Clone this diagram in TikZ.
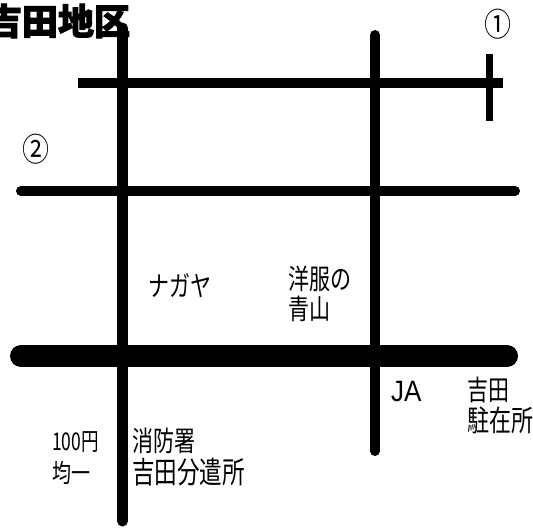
\documentclass[tikz,border=0pt]{standalone}
\usepackage{fontspec}
\setmainfont{Liberation Sans}
\newfontfamily\cjk[BoldFeatures={FakeBold=2.5}]{Noto Sans CJK JP}
\tikzset{
  road/.style={line width=#1,line cap=round,black},
  flatroad/.style={line width=#1,line cap=butt,black},
  lbl/.style={font=\cjk\fontsize{21}{21}\selectfont,anchor=west,inner sep=0pt,outer sep=0pt,yscale=1.33,transform shape},
  ttl/.style={font=\cjk\bfseries\fontsize{36}{36}\selectfont,anchor=west,inner sep=0pt,outer sep=0pt},
  circ/.style={font=\cjk\fontsize{27}{27}\selectfont,anchor=center,inner sep=0pt,outer sep=0pt,yscale=1.2,transform shape}
}
\begin{document}
\begin{tikzpicture}[x=1pt,y=-1pt]
\useasboundingbox (0,0) rectangle (533,528);
\fill[white] (0,0) rectangle (533,528);
\coordinate (v1a) at (122.5,28); \coordinate (v1b) at (122.5,521);
\coordinate (v2a) at (375,35); \coordinate (v2b) at (375,451);
\coordinate (h1a) at (78,83); \coordinate (h1b) at (503,83);
\coordinate (tka) at (489,54); \coordinate (tkb) at (489,121);
\coordinate (h2a) at (21,191); \coordinate (h2b) at (515,191);
\coordinate (h3a) at (21,356); \coordinate (h3b) at (507,356);
\draw[flatroad=9.5pt] (h1a) -- (h1b);
\draw[flatroad=7pt] (tka) -- (tkb);
\draw[road=10pt] (h2a) -- (h2b);
\draw[road=22pt] (h3a) -- (h3b);
\draw[road=11pt] (v1a) -- (v1b);
\draw[road=10pt] (v2a) -- (v2b);
\node[ttl] (title) at (-14,21) {吉田地区};
\node[circ] (one) at (498,24) {①};
\node[circ] (two) at (36,149) {②};
\node[lbl] (nagaya) at (148,286) {ナガヤ};
\node[lbl] (yofuku) at (288,279) {洋服の};
\node[lbl] (aoyama) at (288,309) {青山};
\node[lbl] (shobo) at (132,441) {消防署};
\node[lbl,font=\cjk\fontsize{22.6}{22.6}\selectfont] (bunken) at (132,472) {吉田分遣所};
\node[lbl,font=\cjk\fontsize{17.5}{17.5}\selectfont,yscale=1.05] (hyaku) at (52,442) {100円};
\node[lbl,font=\cjk\fontsize{19}{19}\selectfont] (kin) at (52,473) {均一};
\node[lbl,font=\fontsize{26}{26}\selectfont,yscale=0.85] (ja) at (391,392) {JA};
\node[lbl] (yoshida) at (467,390) {吉田};
\node[lbl,font=\cjk\fontsize{22}{22}\selectfont] (chuzai) at (467,420) {駐在所};
\end{tikzpicture}
\end{document}
